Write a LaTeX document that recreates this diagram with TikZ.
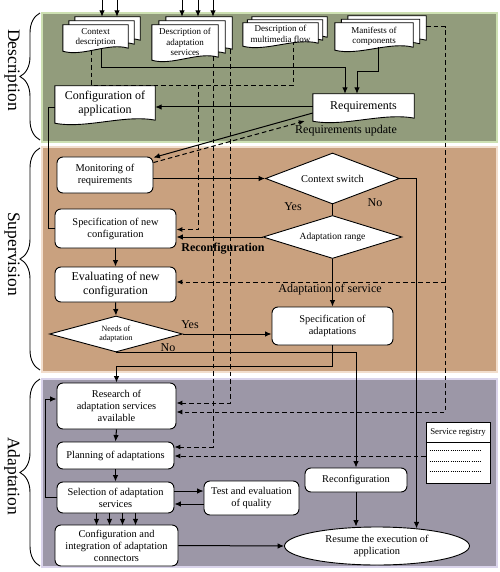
\documentclass[tikz,border=0pt]{standalone}
\usepackage{fontspec}
\setmainfont{Liberation Serif}
\usetikzlibrary{arrows.meta,shapes.geometric,calc,decorations.pathreplacing}
\pgfdeclarelayer{bg}\pgfdeclarelayer{mid}\pgfsetlayers{bg,mid,main}
\definecolor{descfill}{RGB}{146,156,124}
\definecolor{descedge}{RGB}{205,224,178}
\definecolor{supfill}{RGB}{201,161,127}
\definecolor{supedge}{RGB}{242,222,205}
\definecolor{adfill}{RGB}{156,151,167}
\definecolor{adedge}{RGB}{218,212,235}
\tikzset{
 f8/.style={font=\fontsize{8}{9.5}\selectfont},
 f9/.style={font=\fontsize{9}{10.3}\selectfont},
 f10/.style={font=\fontsize{10.4}{12}\selectfont},
 f12/.style={font=\fontsize{12}{14}\selectfont},
 boxnode/.style={draw, fill=white, rounded corners=6pt, align=center, inner sep=1pt, line width=0.9pt, f10},
 decnode/.style={diamond, draw, fill=white, inner sep=0pt, line width=0.9pt, align=center},
 doctext/.style={inner sep=0pt, align=center},
 docline/.style={draw=black, fill=white, line width=0.9pt},
 arr/.style={line width=1pt, -{Latex[length=6.5pt,width=5.5pt]}},
 ln/.style={line width=1pt},
 darr/.style={line width=1pt, dash pattern=on 4.5pt off 3pt, -{Latex[length=6pt,width=5pt]}},
 dln/.style={line width=1pt, dash pattern=on 4.5pt off 3pt},
 panelbox/.style={line width=1.6pt},
 sidetext/.style={rotate=-90, inner sep=0pt, font=\fontsize{17.5}{20}\selectfont},
 lbl/.style={inner sep=0pt, f12},
 bracestyle/.style={line width=0.9pt, decorate, decoration={brace, amplitude=20pt}},
}
\newcommand\docsh[3]{%
 \filldraw[docline] ($(#1.north west)+(#2,#3)$) -- ($(#1.north east)+(#2,#3)$) -- ($(#1.south east)+(#2,#3-2)$)
 .. controls ($(#1.south west)!0.7!(#1.south east)+(#2,#3-8)$) and ($(#1.south west)!0.3!(#1.south east)+(#2,#3+7)$)
 .. ($(#1.south west)+(#2,#3+1)$) -- cycle;}
\begin{document}
\begin{tikzpicture}[x=1pt,y=-1pt]
\useasboundingbox (0,0) rectangle (499,572);

% panels
\begin{pgfonlayer}{bg}
\filldraw[panelbox, fill=descfill, draw=descedge] (42,13) rectangle (497,142);
\filldraw[panelbox, fill=supfill, draw=supedge] (42,147) rectangle (497,372);
\filldraw[panelbox, fill=adfill, draw=adedge] (42,379) rectangle (497,567);
\end{pgfonlayer}

% braces and side titles
\draw[bracestyle] (40,140) -- (40,13);
\draw[bracestyle] (40,370) -- (40,148);
\draw[bracestyle] (40,566) -- (40,379);
\node[sidetext] (tdesc) at (12,70) {Description};
\node[sidetext] (tsup) at (12,254) {Supervision};
\node[sidetext] (tada) at (12,476) {Adaptation};

% documents
\node[doctext,f9,minimum width=65pt,minimum height=25pt] (ctx) at (95.5,37.5) {Context\\description};
\node[doctext,f9,minimum width=66pt,minimum height=34pt] (das) at (185,42) {Description of\\adaptation\\services};
\node[doctext,f9,minimum width=75pt,minimum height=22pt] (mmf) at (280.5,34) {Description of\\multimedia flow};
\node[doctext,f9,minimum width=78pt,minimum height=26pt] (man) at (374,36) {Manifests of\\components};
\node[doctext,f12,minimum width=100pt,minimum height=36pt] (cfg) at (105,104) {Configuration of\\application};
\node[doctext,f12,minimum width=101pt,minimum height=26pt] (req) at (363.5,107) {Requirements};
\begin{pgfonlayer}{mid}
\docsh{ctx}{12}{-8}\docsh{ctx}{6}{-4}\docsh{ctx}{0}{0}
\docsh{das}{14}{-8}\docsh{das}{7}{-4}\docsh{das}{0}{0}
\docsh{mmf}{9}{-6}\docsh{mmf}{4.5}{-3}\docsh{mmf}{0}{0}
\docsh{man}{13}{-7}\docsh{man}{6.5}{-3.5}\docsh{man}{0}{0}
\docsh{cfg}{0}{0}\docsh{req}{0}{0}
\end{pgfonlayer}

% boxes
\node[boxnode, minimum width=96pt, minimum height=36pt] (mon) at (105,175) {Monitoring of\\requirements};
\node[boxnode, minimum width=121pt, minimum height=39pt] (specnew) at (115.5,228.5) {Specification of new\\configuration};
\node[boxnode, f12, minimum width=121pt, minimum height=35pt] (evalnew) at (115.5,284.5) {Evaluating of new\\configuration};
\node[boxnode, minimum width=121pt, minimum height=38pt] (specad) at (332.5,326) {Specification of\\adaptations};
\node[boxnode, minimum width=119pt, minimum height=46pt] (research) at (116.5,406) {Research of\\adaptation services\\available};
\node[boxnode, minimum width=117pt, minimum height=27pt] (plan) at (115.5,455.5) {Planning of adaptations};
\node[boxnode, minimum width=117pt, minimum height=31pt] (select) at (115.5,497.5) {Selection of adaptation\\services};
\node[boxnode, minimum width=123pt, minimum height=41pt] (confint) at (116.5,545.5) {Configuration and\\integration of adaptation\\connectors};
\node[boxnode, minimum width=95pt, minimum height=34pt] (test) at (251.5,498) {Test and evaluation\\of quality};
\node[boxnode, minimum width=102pt, minimum height=24pt] (reconf) at (356,480) {Reconfiguration};
\node[ellipse, draw, fill=white, line width=0.9pt, f10, align=center, minimum width=185pt, minimum height=38pt, inner sep=0pt] (resume) at (377,546) {Resume the execution of\\application};

% decisions
\node[decnode, f10, aspect=2.6, minimum width=134pt, minimum height=51pt] (ctxsw) at (332.5,178.5) {Context switch};
\node[decnode, font=\fontsize{9.5}{11}\selectfont, aspect=3.2, minimum width=139pt, minimum height=43pt] (range) at (332.5,237) {Adaptation range};
\node[decnode, f8, aspect=3.7, minimum width=133pt, minimum height=36pt] (needs) at (116,334) {Needs of\\adaptation};

% service registry
\node[draw, fill=white, line width=0.9pt, minimum width=64pt, minimum height=61pt, inner sep=0pt] (registry) at (458,452.5) {};
\node[inner sep=0pt, font=\fontsize{8.8}{10}\selectfont] (regtitle) at (458,432.5) {Service registry};
\draw[line width=0.9pt] ([yshift=-21pt]registry.north west) -- ([yshift=-21pt]registry.north east);
\foreach \dy in {29,39.5,50}
  \draw[line width=0.6pt, dash pattern=on 0.6pt off 1.5pt] ([xshift=4pt,yshift=-\dy pt]registry.north west) -- ++(52,0);

% junction coordinates
\coordinate (j1) at (198,85);
\coordinate (j2) at (445,282);
\coordinate (j3) at (445,412);

% input arrows on top
\foreach \dx in {6.5,21.5}
  \draw[arr] ([xshift=\dx pt,yshift=25pt]ctx.north) -- ([xshift=\dx pt,yshift=8pt]ctx.north);
\foreach \dx in {-3,13,28}
  \draw[arr] ([xshift=\dx pt,yshift=25pt]das.north) -- ([xshift=\dx pt,yshift=8pt]das.north);

% description connectors
\draw[arr] ([xshift=5.5pt,yshift=2pt]ctx.south) -- ++(0,19) -| ([xshift=-18.5pt]req.north);
\draw[arr] ([xshift=4pt,yshift=2pt]man.south) -- ++(0,24) -| ([xshift=-6.5pt]req.north);
\draw[arr] (req.west) -- (req.west -| cfg.east);
\draw[ln] ([yshift=-4pt]cfg.west) -- ++(-6,0) |- (specnew.west);
\draw[arr] ([yshift=-6pt]req.west) -- ([yshift=-1pt]mon.north east);
\draw[darr] ([yshift=-6pt]mon.north east) -- ([xshift=-8pt,yshift=-14pt]req.west);
\node[lbl] (lru) at (346,131) {Requirements update};

% dashed information flows
\draw[dln] ([xshift=-4.5pt]ctx.south) -- ++(0,35) -| ([xshift=12.5pt,yshift=3pt]mmf.south);
\draw[darr] (j1) |- ([yshift=-1pt]specnew.east);
\draw[darr] ([xshift=28pt,yshift=3pt]das.south) |- ([yshift=8.5pt]plan.east);
\draw[darr] ([xshift=45pt,yshift=10pt]das.south) |- ([yshift=3pt]research.east);
\draw[darr] ([xshift=13pt,yshift=-4pt]man.north east) -| (j3) -- ([yshift=-6pt]research.east);
\draw[darr] (j2) -- ([yshift=2.5pt]evalnew.east);
\draw[darr] ([yshift=-3.5pt]registry.west) -- ([yshift=-0.5pt]plan.east);

% supervision flow
\draw[arr] (mon.east |- ctxsw.west) -- (ctxsw.west);
\draw[ln] (ctxsw.south) -- (range.north);
\draw[arr] (ctxsw.east) -| (resume.24);
\draw[arr] (range.west) -- (range.west -| specnew.east);
\draw[arr] (range.south) -- (range.south |- specad.north);
\draw[arr] (specnew.south) -- (evalnew.north);
\draw[arr] (evalnew.south) -- (needs.north);
\draw[arr] (needs.east) -- (needs.east -| specad.west);
\draw[arr] (needs.south) -| (reconf.north);
\draw[arr] (specad.south) -- ++(0,21) -| (research.north);

% adaptation flow
\draw[arr] (research.south) -- (plan.north);
\draw[arr] (plan.south) -- (select.north);
\foreach \dx in {-19,-6,7,20}
  \draw[arr] ([xshift=\dx pt]select.south) -- ++(0,12);
\draw[arr] (select.west) -- ++(-11,0) |- ([yshift=7pt]research.west);
\draw[arr] ([yshift=6.5pt]select.east) -- ([yshift=7pt]test.west);
\draw[arr] ([yshift=-6pt]test.west) -- ([yshift=-6.5pt]select.east);
\draw[arr] (confint.east) -- (resume.west);
\draw[arr] (reconf.south) -- (reconf.south |- resume.north);

% labels
\node[lbl] (lyes1) at (293,207) {Yes};
\node[lbl] (lno1) at (375,203) {No};
\node[lbl, font=\bfseries\fontsize{12}{14}\selectfont] (lrec) at (223,249) {Reconfiguration};
\node[lbl] (lads) at (330,290) {Adaptation of service};
\node[lbl] (lyes2) at (190,325) {Yes};
\node[lbl] (lno2) at (168,348) {No};
\end{tikzpicture}
\end{document}
